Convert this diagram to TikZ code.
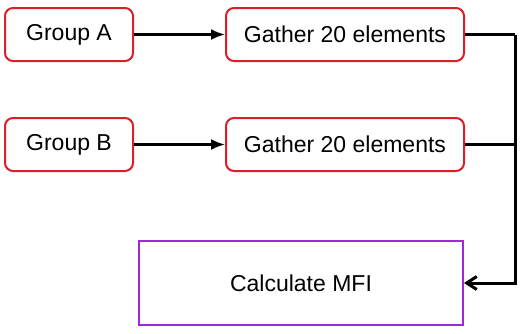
\documentclass[tikz,border=0pt]{standalone}
\usepackage{fontspec}
\setmainfont{Liberation Sans}
\usetikzlibrary{arrows.meta}
\definecolor{boxred}{RGB}{220,30,40}
\definecolor{boxpurple}{RGB}{160,40,220}
\tikzset{
  redbox/.style={draw=boxred, line width=2pt, rounded corners=8pt, minimum height=53pt, inner sep=0pt, font=\fontsize{23}{27}\selectfont},
  purplebox/.style={draw=boxpurple, line width=2pt, minimum height=84pt, minimum width=324pt, inner sep=0pt, font=\fontsize{23}{27}\selectfont},
  conn/.style={line width=2.3pt, -{Latex[length=14pt,width=11pt]}},
  joinline/.style={line width=3pt},
}
\begin{document}
\begin{tikzpicture}[x=1pt,y=-1pt]
\useasboundingbox (0,0) rectangle (531,333);
\node[redbox, minimum width=128pt] (ga) at (69,34.5) {Group A\hspace{10pt}};
\node[redbox, minimum width=238pt] (gea) at (345,34.5) {Gather 20 elements};
\node[redbox, minimum width=128pt] (gb) at (69,144.5) {Group B\hspace{10pt}};
\node[redbox, minimum width=238pt] (geb) at (345,144.5) {Gather 20 elements};
\node[purplebox] (mfi) at (301,283) {Calculate MFI};
\coordinate (j1) at (515,34.5);
\coordinate (j2) at (515,144.5);
\coordinate (j3) at (515,283);
\draw[conn] (ga) -- (gea);
\draw[conn] (gb) -- (geb);
\draw[line width=2.3pt] (gea.east) -- (j1);
\draw[line width=2.3pt] (geb.east) -- (j2);
\draw[joinline, line join=miter, -{Straight Barb[length=10pt,width=13pt]}] (j1) -- (j3) -- (mfi.east);
\end{tikzpicture}
\end{document}
